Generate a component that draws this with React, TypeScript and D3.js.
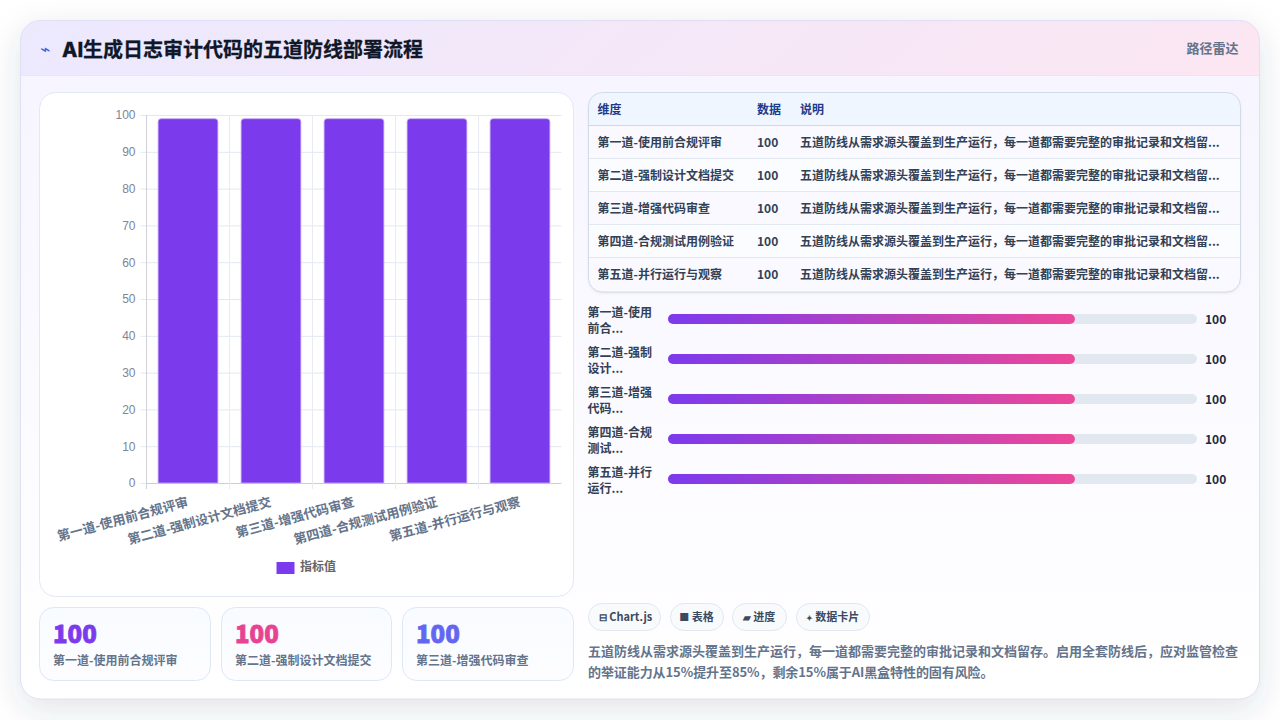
import React, { useRef, useEffect } from 'react';
import * as d3 from 'd3';

const categories = ['第一道-使用前合规评审', '第二道-强制设计文档提交', '第三道-增强代码审查', '第四道-合规测试用例验证', '第五道-并行运行与观察'];
const barValues = [99, 99, 99, 99, 99];
const tableValues = [100, 100, 100, 100, 100];
const yTicks = [0, 10, 20, 30, 40, 50, 60, 70, 80, 90, 100];
const progressLines = [['第一道-使用', '前合...'], ['第二道-强制', '设计...'], ['第三道-增强', '代码...'], ['第四道-合规', '测试...'], ['第五道-并行', '运行...']];
const tableHead = ['维度', '数据', '说明'];
const rowNote = '五道防线从需求源头覆盖到生产运行，每一道都需要完整的审批记录和文档留...';
const statColors = ['#7c3aed', '#e84393', '#6366f1'];
const pills = [
  { icon: '⊟', text: 'Chart.js', x: 589.5, w: 73 },
  { icon: '■', text: '表格', x: 670, w: 54 },
  { icon: '▰', text: '进度', x: 732, w: 55 },
  { icon: '✦', text: '数据卡片', x: 796, w: 74 },
];
const summary = [
  '五道防线从需求源头覆盖到生产运行，每一道都需要完整的审批记录和文档留存。启用全套防线后，应对监管检查',
  '的举证能力从15%提升至85%，剩余15%属于AI黑盒特性的固有风险。',
];

const FONT = '"Noto Sans CJK SC", "Noto Sans", sans-serif';
const TICK_FONT = '"Liberation Sans", Arial, sans-serif';

const App: React.FC = () => {
  const chartRef = useRef<SVGGElement | null>(null);
  const progressRef = useRef<SVGGElement | null>(null);

  useEffect(() => {
    if (!chartRef.current || !progressRef.current) {
      return;
    }
    const g = d3.select(chartRef.current);
    g.selectAll('*').remove();

    const x = d3.scaleBand<string>().domain(categories).range([146.5, 561.5]).paddingInner(0.28).paddingOuter(0.14);
    const xCell = d3.scaleBand<string>().domain(categories).range([146.5, 561.5]);
    const y = d3.scaleLinear().domain([0, 100]).range([483, 115]);

    // horizontal grid
    g.append('g')
      .attr('transform', 'translate(146.5,0)')
      .call(d3.axisLeft(y).tickValues(yTicks).tickSize(6).tickPadding(5))
      .call(a => a.select('.domain').remove())
      .call(a => a.selectAll('.tick line').attr('stroke', '#e2e8f0'))
      .call(a => a.selectAll('.tick text')
        .attr('fill', '#7d8696')
        .attr('font-family', TICK_FONT)
        .attr('font-size', 12));

    g.append('g').selectAll('line').data(yTicks).join('line')
      .attr('x1', 146.5).attr('x2', 561.5)
      .attr('y1', d => y(d) + 0.5).attr('y2', d => y(d) + 0.5)
      .attr('stroke', d => d === 0 ? '#cbd0d8' : '#e2e8f0');

    // vertical grid at the band edges
    const edges = [...categories.map(c => xCell(c) as number), 561.5];
    g.append('g').selectAll('line').data(edges.slice(0, 5)).join('line')
      .attr('x1', d => d).attr('x2', d => d)
      .attr('y1', 115).attr('y2', 489)
      .attr('stroke', (d, i) => i === 0 ? '#cdd1d8' : '#e8ecf2');

    // bars, rounded on top only
    g.append('g').selectAll('path').data(barValues).join('path')
      .attr('d', (d, i) => {
        const bx = x(categories[i]) as number;
        const w = x.bandwidth();
        const p = d3.path();
        p.moveTo(bx, y(0));
        p.lineTo(bx, y(d) + 3);
        p.quadraticCurveTo(bx, y(d), bx + 3, y(d));
        p.lineTo(bx + w - 3, y(d));
        p.quadraticCurveTo(bx + w, y(d), bx + w, y(d) + 3);
        p.lineTo(bx + w, y(0));
        p.closePath();
        return p.toString();
      })
      .attr('fill', '#7c3aed')
      .attr('stroke', '#c4a8f4')
      .attr('stroke-width', 0.8);

    // rotated category labels
    g.append('g').selectAll('text').data(categories).join('text')
      .attr('transform', d => `translate(${(xCell(d) as number) + xCell.bandwidth() / 2 + 1},506) rotate(-15)`)
      .attr('text-anchor', 'end')
      .attr('fill', '#64748b')
      .attr('font-family', FONT)
      .attr('font-size', 13)
      .attr('font-weight', 700)
      .text(d => d);

    // progress rows
    const p = d3.select(progressRef.current);
    p.selectAll('*').remove();
    const px = d3.scaleLinear().domain([0, 130]).range([668, 1197]);
    const py = d3.scalePoint<string>().domain(categories).range([319, 479]);
    const row = p.selectAll('g').data(categories).join('g')
      .attr('transform', d => `translate(0,${py(d)})`);
    row.append('rect')
      .attr('x', px(0)).attr('y', -5).attr('width', px(130) - px(0)).attr('height', 10).attr('rx', 5)
      .attr('fill', '#e2e8f0');
    row.append('rect')
      .attr('x', px(0)).attr('y', -5).attr('width', (d, i) => px(tableValues[i]) - px(0)).attr('height', 10).attr('rx', 5)
      .attr('fill', 'url(#barFill)');
    row.append('text')
      .attr('x', 1205).attr('y', 4.5)
      .attr('fill', '#1e293b').attr('font-size', 12).attr('font-weight', 700).attr('font-family', FONT)
      .text((d, i) => tableValues[i]);
    row.each(function (d, i) {
      const r = d3.select(this);
      progressLines[i].forEach((t, j) => {
        r.append('text')
          .attr('x', 587.5).attr('y', j === 0 ? -2.5 : 14)
          .attr('fill', '#334155').attr('font-size', 12).attr('font-weight', 600).attr('font-family', FONT)
          .text(t);
      });
    });
  }, []);

  const rowY = d3.scaleLinear().domain([0, 5]).range([125, 290]);

  return (
    <svg width={1280} height={720} viewBox="0 0 1280 720" style={{ position: 'absolute', left: 0, top: 0 }} fontFamily={FONT}>
      <defs>
        <linearGradient id="headFill" x1="0" x2="1" y1="0" y2="0.05">
          <stop offset="0" stopColor="#ece9fe" />
          <stop offset="1" stopColor="#fbe6f2" />
        </linearGradient>
        <linearGradient id="bodyFill" x1="0" x2="0" y1="0" y2="1">
          <stop offset="0" stopColor="#f6f4ff" />
          <stop offset="1" stopColor="#ffffff" />
        </linearGradient>
        <linearGradient id="barFill" x1="0" x2="1" y1="0" y2="0">
          <stop offset="0" stopColor="#7c3aed" />
          <stop offset="1" stopColor="#ec4899" />
        </linearGradient>
        <linearGradient id="statFill" x1="0" x2="0" y1="0" y2="1">
          <stop offset="0" stopColor="#f8fbff" />
          <stop offset="1" stopColor="#fdfdff" />
        </linearGradient>
        <filter id="cardShadow" x="-10%" y="-15%" width="120%" height="135%">
          <feDropShadow dx="0" dy="10" stdDeviation="16" floodColor="#334155" floodOpacity="0.14" />
        </filter>
        <filter id="tableShadow" x="-2%" y="-5%" width="104%" height="112%">
          <feDropShadow dx="0" dy="1" stdDeviation="0.8" floodColor="#334155" floodOpacity="0.1" />
        </filter>
        <clipPath id="cardClip"><rect x={20.5} y={20.5} width={1239} height={678.5} rx={20} /></clipPath>
        <clipPath id="tableClip"><rect x={588.5} y={92.5} width={652} height={199.5} rx={14} /></clipPath>
      </defs>

      <rect width={1280} height={720} fill="#ffffff" />
      <rect x={20.5} y={20.5} width={1239} height={678.5} rx={20} fill="url(#bodyFill)" filter="url(#cardShadow)" />
      <g clipPath="url(#cardClip)">
        <rect x={20} y={20} width={1240} height={56} fill="url(#headFill)" />
        <line x1={20} x2={1260} y1={75.5} y2={75.5} stroke="#e6e6f6" />
      </g>
      <rect x={20.5} y={20.5} width={1239} height={678.5} rx={20} fill="none" stroke="#e0e0f4" />

      <text x={40} y={55} fontSize={17} fill="#3b5bdb" fontFamily='"DejaVu Sans", sans-serif'>⌁</text>
      <text x={62} y={56.5} fontSize={20} fontWeight={700} fill="#0f172a" stroke="#0f172a" strokeWidth={0.3}>
        <tspan fontFamily="Inter, sans-serif" fontWeight={800}>AI</tspan>生成日志审计代码的五道防线部署流程
      </text>
      <text x={1238.5} y={53} fontSize={13} fontWeight={600} fill="#64748b" textAnchor="end">路径雷达</text>

      {/* chart card */}
      <rect x={39.5} y={92.5} width={534} height={504} rx={16} fill="#ffffff" stroke="#e2e8f4" />
      <g ref={chartRef} />
      <rect x={276.5} y={562} width={18} height={12} fill="#7c3aed" />
      <text x={300} y={571} fontSize={12} fontWeight={600} fill="#666666">指标值</text>

      {/* stat cards */}
      {[{ x: 39.5, w: 171 }, { x: 221.5, w: 170 }, { x: 402.5, w: 171 }].map((c, i) => (
        <g key={i}>
          <rect x={c.x} y={607.5} width={c.w} height={73} rx={14} fill="url(#statFill)" stroke="#dde8f6" />
          <text x={c.x + 13.5} y={643} fontSize={24} fontWeight={900} fill={statColors[i]} stroke={statColors[i]} strokeWidth={0.8}>{tableValues[i]}</text>
          <text x={c.x + 13.5} y={665} fontSize={12} fontWeight={600} fill="#64748b">{categories[i]}</text>
        </g>
      ))}

      {/* table */}
      <rect x={588.5} y={92.5} width={652} height={199.5} rx={14} fill="#fafaff" filter="url(#tableShadow)" />
      <g clipPath="url(#tableClip)">
        <rect x={588} y={92} width={653} height={33} fill="#eff6ff" />
        {categories.map((c, i) => (
          <rect key={c} x={588} y={rowY(i)} width={653} height={33} fill={i % 2 === 1 ? '#fbfcff' : '#f9f9ff'} />
        ))}
        {[0, 1, 2, 3, 4].map(i => (
          <line key={i} x1={588} x2={1241} y1={rowY(i) + 0.5} y2={rowY(i) + 0.5} stroke={i === 0 ? '#cfd8e8' : '#e2e8f0'} />
        ))}
      </g>
      <rect x={588.5} y={92.5} width={652} height={199.5} rx={14} fill="none" stroke="#d3dbe6" />
      {tableHead.map((h, i) => (
        <text key={h} x={[597.5, 757, 800][i]} y={114} fontSize={12} fontWeight={700} fill="#1e3a8a">{h}</text>
      ))}
      {categories.map((c, i) => (
        <g key={c} fontSize={12} fontWeight={600} fill="#334155">
          <text x={597.5} y={rowY(i) + 22}>{c}</text>
          <text x={757} y={rowY(i) + 22}>{tableValues[i]}</text>
          <text x={800} y={rowY(i) + 22}>{rowNote}</text>
        </g>
      ))}

      <g ref={progressRef} />

      {/* pills */}
      {pills.map((p, i) => (
        <g key={p.text}>
          <rect x={(i === 0 ? 588 : p.x) + 0.5} y={603.5} width={p.w - 1} height={27} rx={13.5} fill="#f8fafc" stroke="#e2e8f0" />
          <text x={p.x + p.w / 2 - 0.5} y={621} textAnchor="middle" fontSize={11} fontWeight={600} fill="#3c4a5e">
            <tspan fontSize={p.icon === '✦' ? 8 : 10}>{p.icon}</tspan> {p.text}
          </text>
        </g>
      ))}

      {summary.map((s, i) => (
        <text key={i} x={588} y={656 + i * 21} fontSize={13} fontWeight={600} fill="#64748b" letterSpacing={i === 1 ? -0.08 : 0}>{s}</text>
      ))}
    </svg>
  );
};

export default App;
